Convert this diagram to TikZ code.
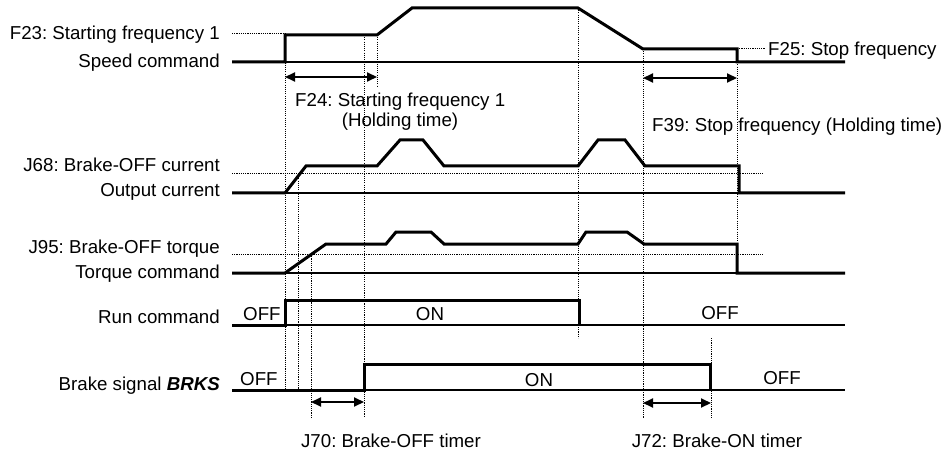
\documentclass[tikz,border=0pt]{standalone}
\usepackage{fontspec}
\setmainfont{Liberation Sans}
\usetikzlibrary{arrows.meta}
\frenchspacing
\begin{document}
\begin{tikzpicture}[x=1pt,y=-1pt,
  lbl/.style={font=\fontsize{18.7}{20}\selectfont, inner sep=0pt},
  lblr/.style={lbl, anchor=base east},
  lbll/.style={lbl, anchor=base west},
  lblc/.style={lbl, anchor=base},
  trace/.style={line width=3pt, line join=miter},
  base/.style={line width=2pt},
  dots/.style={line width=1pt, dash pattern=on 1.1pt off 1.1pt},
  dim/.style={line width=2pt, {Triangle[length=10pt,width=9pt]}-{Triangle[length=10pt,width=9pt]}}]
\useasboundingbox (0,0) rectangle (949,454);

% ---------- left labels ----------
\node[lblr] (f23) at (220,40) {F23: Starting frequency 1};
\node[lblr] (spd) at (220,68) {Speed command};
\node[lblr] (j68) at (220,172) {J68: Brake-OFF current};
\node[lblr] (cur) at (220,197) {Output current};
\node[lblr] (j95) at (220,253) {J95: Brake-OFF torque};
\node[lblr] (trq) at (220,278) {Torque command};
\node[lblr] (run) at (220,323) {Run command};
\node[lblr] (brk) at (220,390) {Brake signal \textbf{\textit{BRKS}}};

% ---------- dotted reference lines ----------
\draw[dots] (232,34) -- (285,34);
\draw[dots] (737,49) -- (765,49);
\draw[dots] (232,174) -- (763,174);
\draw[dots] (232,254) -- (764,254);
\draw[dots] (285,34) -- (285,390);
\draw[dots] (298,174) -- (298,390);
\draw[dots] (311,254) -- (311,417);
\draw[dots] (364,35) -- (364,417);
\draw[dots] (377,35) -- (377,87);
\draw[dots] (578,8) -- (578,338);
\draw[dots] (643,49) -- (643,418);
\draw[dots] (737,49) -- (737,273);
\draw[dots] (711,338) -- (711,418);

% ---------- speed command ----------
\draw[base] (232,62) -- (845,62);
\draw[trace] (232,62) -- (285,62) -- (285,35) -- (377,35) -- (412,8) -- (578,8)
  -- (643,49) -- (737,49) -- (737,62) -- (845,62);

% ---------- output current ----------
\draw[base] (232,193) -- (845,193);
\draw[trace] (232,193) -- (285,193) -- (306,166) -- (377,166) -- (400,140) -- (423,140)
  -- (444,166) -- (578,166) -- (598,140) -- (625,140) -- (645,166) -- (739,166)
  -- (739,193) -- (845,193);

% ---------- torque command ----------
\draw[base] (232,273) -- (845,273);
\draw[trace] (232,273) -- (285,273) -- (326,244) -- (386,244) -- (396,232) -- (431,232)
  -- (444,244) -- (578,244) -- (586,232) -- (627,232) -- (644,244) -- (737,244)
  -- (737,273) -- (845,273);

% ---------- run command ----------
\draw[base] (232,325) -- (845,325);
\draw[trace] (232,325) -- (285,325) -- (285,300) -- (579,300) -- (579,325);
\node[lbll] (runoff) at (243,320) {OFF};
\node[lblc] (runon) at (430,320) {ON};
\node[lblc] (runoff2) at (720,319) {OFF};

% ---------- brake signal ----------
\draw[base] (232,390) -- (845,390);
\draw[trace] (232,390) -- (364,390) -- (364,364) -- (710,364) -- (710,390);
\node[lbll] (brkoff) at (240,385) {OFF};
\node[lblc] (brkon) at (539,386) {ON};
\node[lblc] (brkoff2) at (782,384) {OFF};

% ---------- dimension arrows ----------
\coordinate (a1) at (285,77); \coordinate (a2) at (377,77);
\coordinate (b1) at (643,78); \coordinate (b2) at (737,78);
\coordinate (c1) at (311,402); \coordinate (c2) at (364,402);
\coordinate (d1) at (643,403); \coordinate (d2) at (711,403);
\draw[dim] (a1) -- (a2);
\draw[dim] (b1) -- (b2);
\draw[dim] (c1) -- (c2);
\draw[dim] (d1) -- (d2);

% ---------- annotation texts ----------
\node[lbll] (f24) at (295,107) {F24: Starting frequency 1};
\node[lblc] (f24b) at (400,127) {(Holding time)};
\node[lbll] (f25) at (768,56) {F25: Stop frequency};
\node[lbll] (f39) at (652,132) {F39: Stop frequency (Holding time)};
\node[lblc] (j70) at (391,447) {J70: Brake-OFF timer};
\node[lblc] (j72) at (717,447) {J72: Brake-ON timer};
\end{tikzpicture}
\end{document}
